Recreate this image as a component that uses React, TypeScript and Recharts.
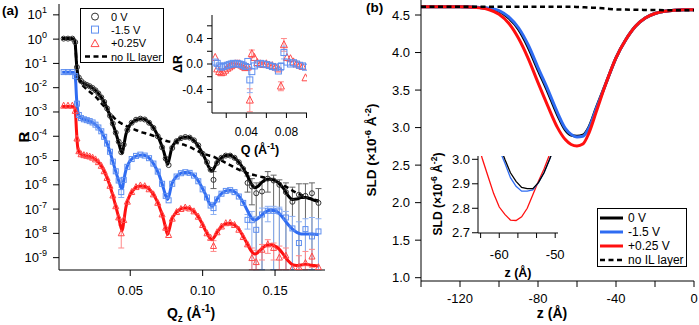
import {
  ComposedChart,
  ErrorBar,
  Line,
  LineChart,
  Scatter,
  XAxis,
  YAxis,
} from "recharts";

const FONT = '"Liberation Sans", Arial, Helvetica, sans-serif';
const BLUE = "#2f6cf2";
const RED = "#ff1010";
const BLACK_MARK = "#333";
const BLUE_MARK = "#5f8ff0";
const RED_MARK = "#ff4848";
const BLACK_ERR = "#666";
const BLUE_ERR = "#8db0f2";
const RED_ERR = "#ff8a8a";

// ---------- (a) reflectivity: fits ----------
const qFit = [
  0.003, 0.006, 0.009, 0.011, 0.0118, 0.0124, 0.0128, 0.0132, 0.0136, 0.014,
  0.015, 0.016, 0.018, 0.02, 0.022, 0.024, 0.026, 0.028, 0.03, 0.032,
  0.034, 0.036, 0.038, 0.04, 0.042, 0.0435, 0.0445, 0.0455, 0.047, 0.049,
  0.052, 0.055, 0.058, 0.061, 0.064, 0.067, 0.07, 0.073, 0.0745, 0.0758,
  0.077, 0.0785, 0.081, 0.084, 0.087, 0.09, 0.093, 0.096, 0.099, 0.102,
  0.1045, 0.1065, 0.108, 0.11, 0.113, 0.116, 0.119, 0.122, 0.125, 0.128,
  0.131, 0.1335, 0.136, 0.138, 0.141, 0.144, 0.147, 0.15, 0.153, 0.156,
  0.159, 0.162, 0.165, 0.168, 0.171, 0.174, 0.177, 0.18,
];

const fit0V = [
  1.05, 1.05, 1.05, 1.0, 0.8, 0.3, 0.12, 0.06, 0.04, 0.03,
  0.022, 0.018, 0.015, 0.013, 0.0113, 0.0096, 0.0078, 0.0058, 0.004, 0.0025,
  0.0014, 7e-4, 3.2e-4, 1.4e-4, 5.5e-5, 2.6e-5, 2.0e-5, 4e-5, 1.2e-4, 2.5e-4,
  4.0e-4, 4.9e-4, 5.2e-4, 4.6e-4, 3.2e-4, 1.8e-4, 7.5e-5, 2.5e-5, 1.2e-5, 7e-6,
  1.2e-5, 3e-5, 5.5e-5, 7.8e-5, 9e-5, 9e-5, 7.5e-5, 4.8e-5, 2.5e-5, 1.1e-5,
  5e-6, 3.6e-6, 5e-6, 8.5e-6, 1.3e-5, 1.6e-5, 1.65e-5, 1.3e-5, 8.5e-6, 4.8e-6,
  2.3e-6, 1.1e-6, 7.5e-7, 8.5e-7, 1.3e-6, 1.65e-6, 1.7e-6, 1.5e-6, 1.1e-6, 7e-7,
  3.6e-7, 2.5e-7, 2.6e-7, 3e-7, 3e-7, 2.7e-7, 2.3e-7, 2.1e-7,
];

const fitNoIL = [
  1.05, 1.05, 1.05, 1.0, 0.8, 0.3, 0.12, 0.06, 0.04, 0.03,
  0.02, 0.015, 0.011, 0.0085, 0.0068, 0.0055, 0.0043, 0.0032, 0.0023, 0.0017,
  0.0012, 8.5e-4, 6.5e-4, 5e-4, 4e-4, 3.5e-4, 3.2e-4, 3e-4, 2.7e-4, 2.4e-4,
  2e-4, 1.7e-4, 1.45e-4, 1.3e-4, 1.15e-4, 1e-4, 8.5e-5, 7e-5, 6.5e-5, 6.2e-5,
  6e-5, 5.8e-5, 5.5e-5, 5e-5, 4.5e-5, 3.8e-5, 3.2e-5, 2.6e-5, 2.1e-5, 1.8e-5,
  1.6e-5, 1.5e-5, 1.4e-5, 1.2e-5, 1e-5, 8e-6, 6.5e-6, 5.2e-6, 4.2e-6, 3.5e-6,
  3e-6, 2.7e-6, 2.5e-6, 2.3e-6, 2.1e-6, 1.9e-6, 1.7e-6, 1.45e-6, 1.2e-6, 9.5e-7,
  7.5e-7, 5.8e-7, 4.6e-7, 3.8e-7, 3.2e-7, 2.8e-7, 2.5e-7, 2.2e-7,
];

const fitMinus15V = [
  0.043, 0.043, 0.043, 0.042, 0.035, 0.015, 0.005, 0.0022, 0.0013, 9e-4,
  6.5e-4, 5.6e-4, 5e-4, 4.6e-4, 4.2e-4, 3.7e-4, 3e-4, 2.3e-4, 1.6e-4, 9.5e-5,
  5e-5, 2.3e-5, 9e-6, 3.5e-6, 1.5e-6, 8e-7, 7e-7, 1.5e-6, 4e-6, 8e-6,
  1.3e-5, 1.6e-5, 1.7e-5, 1.55e-5, 1.1e-5, 6e-6, 2.5e-6, 7e-7, 3.5e-7, 2.5e-7,
  4e-7, 1e-6, 1.9e-6, 2.8e-6, 3.2e-6, 3.2e-6, 2.7e-6, 1.8e-6, 9e-7, 4e-7,
  1.8e-7, 1.3e-7, 1.6e-7, 2.6e-7, 4.3e-7, 5.6e-7, 6e-7, 5.2e-7, 3.5e-7, 1.9e-7,
  8.5e-8, 4.5e-8, 3.5e-8, 4e-8, 5.8e-8, 8e-8, 9e-8, 8.5e-8, 6.5e-8, 4e-8,
  2.3e-8, 1.5e-8, 1.1e-8, 9.5e-9, 9.5e-9, 9.5e-9, 9.2e-9, 9e-9,
];

const fitPlus025V = [
  0.0017, 0.0017, 0.0017, 0.00165, 0.0014, 6e-4, 2e-4, 8e-5, 4e-5, 2.8e-5,
  2e-5, 1.8e-5, 1.65e-5, 1.55e-5, 1.45e-5, 1.3e-5, 1.1e-5, 8.5e-6, 6e-6, 3.6e-6,
  1.9e-6, 9e-7, 3.6e-7, 1.3e-7, 4.5e-8, 1.8e-8, 1.3e-8, 3e-8, 1.2e-7, 3e-7,
  6e-7, 8.5e-7, 9e-7, 8.2e-7, 5.8e-7, 3.2e-7, 1.3e-7, 3.8e-8, 1.6e-8, 9e-9,
  1.5e-8, 3.5e-8, 6.5e-8, 9.5e-8, 1.1e-7, 1.1e-7, 9e-8, 5.8e-8, 3e-8, 1.3e-8,
  7e-9, 5.5e-9, 7e-9, 1.1e-8, 1.9e-8, 2.5e-8, 2.6e-8, 2.2e-8, 1.5e-8, 7.5e-9,
  3.5e-9, 1.9e-9, 1.4e-9, 1.6e-9, 2.4e-9, 3.2e-9, 3.4e-9, 3e-9, 2.2e-9, 1.3e-9,
  7.5e-10, 5.2e-10, 4.8e-10, 5e-10, 5.2e-10, 5e-10, 4.7e-10, 4.5e-10,
];

// ---------- (a) reflectivity: measured points ----------
const qMeas = [
  0.004, 0.007, 0.01, 0.012, 0.0132, 0.0145, 0.016, 0.018, 0.02, 0.022,
  0.024, 0.026, 0.028, 0.03, 0.032, 0.034, 0.036, 0.038, 0.04, 0.042,
  0.0438, 0.0455, 0.048, 0.051, 0.054, 0.057, 0.06, 0.063, 0.066, 0.069,
  0.072, 0.0745, 0.0765, 0.079, 0.082, 0.085, 0.088, 0.091, 0.094, 0.097,
  0.1, 0.103, 0.1055, 0.1075, 0.11, 0.113, 0.116, 0.119, 0.122, 0.125,
  0.128, 0.131, 0.134, 0.137, 0.141, 0.145, 0.149, 0.153, 0.1575, 0.162,
  0.1665, 0.171, 0.1755, 0.18,
];

const meas0V = [
  1.05, 1.05, 1.05, 0.75, 0.07, 0.026, 0.019, 0.015, 0.013, 0.0115,
  0.0097, 0.0078, 0.0058, 0.004, 0.0026, 0.0014, 7e-4, 3.3e-4, 1.4e-4, 6e-5,
  2.2e-5, 4.5e-5, 1.8e-4, 3.6e-4, 4.8e-4, 5.3e-4, 4.9e-4, 3.6e-4, 2.2e-4, 1e-4,
  3.5e-5, 1.2e-5, 6.5e-6, 3.3e-5, 6.3e-5, 8.3e-5, 9.3e-5, 8.8e-5, 6.8e-5, 4.2e-5,
  1.9e-5, 8.5e-6, 4.2e-6, 1.6e-6, 8e-6, 1.3e-5, 1.6e-5, 1.6e-5, 1.3e-5, 8.5e-6,
  4.5e-6, 1.2e-6, 8.5e-7, 4.5e-7, 5.3e-7, 1.8e-6, 1.5e-6, 1e-6, 5e-7, 2e-7,
  3.9e-7, 3.5e-7, 4.5e-7, 1.8e-7,
];

const measMinus15V = [
  0.044, 0.044, 0.044, 0.03, 0.0022, 7.5e-4, 5.6e-4, 5e-4, 4.6e-4, 4.2e-4,
  3.7e-4, 3e-4, 2.3e-4, 1.6e-4, 9.5e-5, 5e-5, 2.3e-5, 9e-6, 3.6e-6, 1.5e-6,
  5e-7, 1.6e-6, 5.5e-6, 1.15e-5, 1.55e-5, 1.75e-5, 1.6e-5, 1.25e-5, 7.5e-6, 3.5e-6,
  1.1e-6, 3.5e-7, 2.3e-7, 1.1e-6, 2.2e-6, 3e-6, 3.3e-6, 3.1e-6, 2.4e-6, 1.4e-6,
  6.5e-7, 3e-7, 1.4e-7, 1.1e-7, 2.5e-7, 4.3e-7, 5.6e-7, 6e-7, 5e-7, 3.3e-7,
  1.8e-7, 3.6e-8, 3.5e-8, 1.4e-8, 6e-8, 8.5e-8, 8.5e-8, 8e-8, 4.5e-8, 1.6e-8,
  4e-9, 1.5e-8, 7.5e-9, 1.2e-8,
];

const measPlus025V = [
  0.0018, 0.0018, 0.0018, 0.0011, 8e-5, 2.4e-5, 1.8e-5, 1.65e-5, 1.55e-5, 1.45e-5,
  1.3e-5, 1.1e-5, 8.5e-6, 6e-6, 3.6e-6, 1.9e-6, 9e-7, 3.6e-7, 1.3e-7, 4.5e-8,
  1e-8, 3.5e-8, 2e-7, 5e-7, 8e-7, 9.3e-7, 8.7e-7, 6.5e-7, 4e-7, 1.8e-7,
  6e-8, 1.7e-8, 8.5e-9, 4e-8, 7.5e-8, 1e-7, 1.15e-7, 1.05e-7, 8e-8, 4.8e-8,
  2.2e-8, 1e-8, 6.5e-9, 3e-9, 1.1e-8, 1.9e-8, 2.6e-8, 2.7e-8, 2.2e-8, 1.4e-8,
  7e-9, 3.5e-9, 9.5e-10, 6.5e-10, 2.1e-9, 3.5e-9, 2.5e-9, 1e-9, 1.2e-9, 3.6e-10,
  4e-10, 6e-10, 1.1e-9, 4e-10,
];

// error bar bounds (lower, upper) at the listed q values; 3.2e-10 = bar runs to the frame bottom
const errQ0V = [0.1075, 0.131, 0.134, 0.137, 0.141, 0.145, 0.149, 0.153, 0.1575, 0.162, 0.1665, 0.171, 0.1755, 0.18];
const errLo0V = [7e-7, 5e-7, 1.5e-7, 3.2e-10, 3.2e-10, 5e-7, 3.2e-10, 3.2e-10, 3.2e-10, 3.2e-10, 3.2e-10, 3.2e-10, 3.2e-10, 3.2e-10];
const errHi0V = [3.5e-6, 2.3e-6, 1.8e-6, 1.2e-6, 1.3e-6, 3.5e-6, 2.5e-6, 1.6e-6, 1.2e-6, 8e-7, 1.1e-6, 1.1e-6, 1.2e-6, 7e-7];

const errQMinus15V = [0.0438, 0.1075, 0.131, 0.134, 0.137, 0.141, 0.145, 0.149, 0.153, 0.1575, 0.162, 0.1665, 0.171, 0.1755, 0.18];
const errLoMinus15V = [3e-7, 6e-8, 1.5e-8, 3.2e-10, 3.2e-10, 3.2e-10, 3e-8, 3.2e-10, 3.2e-10, 3.2e-10, 3.2e-10, 3.2e-10, 3.2e-10, 3.2e-10, 3.2e-10];
const errHiMinus15V = [8e-7, 1.9e-7, 6e-8, 8e-8, 5e-8, 1.1e-7, 1.3e-7, 1.3e-7, 1.2e-7, 8e-8, 5e-8, 3e-8, 4e-8, 4.5e-8, 4e-8];

const errQPlus025V = [0.0438, 0.1075, 0.134, 0.137, 0.141, 0.145, 0.149, 0.153, 0.1575, 0.1665, 0.171, 0.1755];
const errLoPlus025V = [2.5e-9, 1.8e-9, 3.2e-10, 3.2e-10, 8e-10, 1.5e-9, 8e-10, 3.2e-10, 3.2e-10, 3.2e-10, 3.2e-10, 4e-10];
const errHiPlus025V = [2.2e-8, 5e-9, 2.5e-9, 2e-9, 3.5e-9, 5.5e-9, 4e-9, 3e-9, 2.5e-9, 1.2e-9, 1.8e-9, 2.2e-9];

const logTicks = [1e-9, 1e-8, 1e-7, 1e-6, 1e-5, 1e-4, 1e-3, 1e-2, 1e-1, 1, 10];
const qTicks = [0.05, 0.1, 0.15];

// ---------- (a) inset: delta R ----------
const qDiff = [
  0.009, 0.011, 0.013, 0.015, 0.017, 0.019, 0.021, 0.023, 0.025, 0.027,
  0.029, 0.031, 0.033, 0.035, 0.037, 0.039, 0.0415, 0.0435, 0.0455, 0.048,
  0.051, 0.054, 0.057, 0.06, 0.063, 0.066, 0.069, 0.072, 0.0745, 0.0775,
  0.0805, 0.084, 0.087, 0.09, 0.093, 0.096, 0.099,
];
const diffMinus15V = [
  0.03, 0.01, -0.03, -0.05, -0.04, -0.03, -0.02, -0.01, 0.0, 0.01,
  0.0, 0.01, 0.0, -0.01, -0.02, -0.04, 0.04, -0.25, -0.12, -0.03,
  0.0, 0.01, 0.0, -0.01, -0.02, -0.04, -0.05, -0.11, -0.04, 0.18,
  0.03, 0.0, 0.02, 0.0, -0.02, -0.03, -0.05,
];
const diffPlus025V = [
  0.1, -0.08, -0.12, -0.14, -0.13, -0.1, -0.07, -0.05, -0.03, -0.01,
  0.0, 0.0, 0.0, -0.02, -0.04, -0.06, -0.05, -0.57, 0.16, 0.1,
  0.02, 0.0, -0.01, 0.0, -0.02, -0.03, -0.05, -0.08, -0.35, 0.3,
  0.1, 0.08, 0.03, 0.0, -0.02, -0.04, -0.22,
];
const diffErrQMinus15V = [0.0435, 0.0745, 0.0775];
const diffErrMinus15V = [0.2, 0.06, 0.1];
const diffErrQPlus025V = [0.0435, 0.0455, 0.0745, 0.0775];
const diffErrPlus025V = [0.18, 0.06, 0.07, 0.1];
const diffQTicks = [0.02, 0.04, 0.06, 0.08, 0.1];
const diffQLabels = [0.04, 0.08];
const diffTicks = [-0.6, -0.4, -0.2, 0, 0.2, 0.4, 0.6];
const diffLabels = [-0.4, 0, 0.4];

// ---------- (b) SLD profiles ----------
const zProfile = [
  -140, -130, -120, -110, -105, -100, -95, -90, -85, -80, -75, -70, -66, -63,
  -60, -57, -54, -50, -45, -40, -35, -30, -25, -20, -15, -10, -5, 0,
];
const sld0V = [
  4.61, 4.61, 4.61, 4.6, 4.585, 4.55, 4.46, 4.31, 4.07, 3.77, 3.48, 3.17, 2.97, 2.9,
  2.886, 2.9, 3.0, 3.27, 3.6, 3.93, 4.17, 4.35, 4.46, 4.52, 4.55, 4.565, 4.57, 4.57,
];
const sldMinus15V = [
  4.61, 4.61, 4.61, 4.6, 4.59, 4.56, 4.475, 4.33, 4.1, 3.8, 3.51, 3.2, 2.99, 2.91,
  2.875, 2.885, 2.99, 3.26, 3.6, 3.93, 4.17, 4.35, 4.46, 4.52, 4.55, 4.565, 4.57, 4.57,
];
const sldPlus025V = [
  4.61, 4.61, 4.61, 4.595, 4.57, 4.51, 4.39, 4.19, 3.92, 3.6, 3.29, 3.0, 2.84, 2.775,
  2.755, 2.78, 2.92, 3.22, 3.6, 3.93, 4.17, 4.35, 4.46, 4.52, 4.55, 4.565, 4.57, 4.57,
];
const sldNoIL = [
  4.61, 4.61, 4.61, 4.61, 4.61, 4.61, 4.61, 4.61, 4.61, 4.61, 4.61, 4.61, 4.61, 4.61,
  4.608, 4.604, 4.6, 4.595, 4.585, 4.575, 4.572, 4.57, 4.568, 4.566, 4.565, 4.565, 4.565, 4.565,
];
const zTicks = [-140, -120, -100, -80, -60, -40, -20, 0];
const zLabels = [-120, -80, -40, 0];
const sldTicks = [1.0, 1.5, 2.0, 2.5, 3.0, 3.5, 4.0, 4.5];

// ---------- (b) inset: zoom on the minimum ----------
const zInset = [-64, -63, -62, -61, -60, -59, -58, -57, -56, -55, -54, -53, -52, -51, -50];
const inset0V = [3.32, 3.24, 3.17, 3.11, 3.06, 3.0, 2.945, 2.91, 2.885, 2.88, 2.88, 2.905, 2.945, 3.0, 3.06];
const insetMinus15V = [3.3, 3.22, 3.15, 3.09, 3.04, 2.985, 2.925, 2.89, 2.87, 2.87, 2.875, 2.905, 2.945, 3.0, 3.06];
const insetPlus025V = [3.08, 3.0, 2.93, 2.86, 2.805, 2.775, 2.752, 2.75, 2.765, 2.8, 2.855, 2.91, 2.96, 3.02, 3.1];
const zInsetTicks = [-63.333, -60, -56.667, -53.333, -50];
const zInsetLabels = [-60, -50];
const sldInsetTicks = [2.7, 2.8, 2.9, 3.0];

// ---------- table builders ----------
const pairs = (xs: number[], ys: number[], xk: string, yk: string) =>
  xs.map((x, i) => ({ [xk]: x, [yk]: ys[i] }));

const measured = (r: number[], eq: number[], lo: number[], hi: number[]) =>
  qMeas.map((q, i) => {
    const k = eq.indexOf(q);
    return { q, r: r[i], err: k < 0 ? null : [r[i] - lo[k], hi[k] - r[i]] };
  });

const diffs = (d: number[], eq: number[], e: number[]) =>
  qDiff.map((q, i) => {
    const k = eq.indexOf(q);
    return { q, d: d[i], err: k < 0 ? null : e[k] };
  });

const fitBlack = pairs(qFit, fit0V, "q", "r");
const fitBlue = pairs(qFit, fitMinus15V, "q", "r");
const fitRed = pairs(qFit, fitPlus025V, "q", "r");
const fitDash = pairs(qFit, fitNoIL, "q", "r");
const dataBlack = measured(meas0V, errQ0V, errLo0V, errHi0V);
const dataBlue = measured(measMinus15V, errQMinus15V, errLoMinus15V, errHiMinus15V);
const dataRed = measured(measPlus025V, errQPlus025V, errLoPlus025V, errHiPlus025V);
const diffBlue = diffs(diffMinus15V, diffErrQMinus15V, diffErrMinus15V);
const diffRed = diffs(diffPlus025V, diffErrQPlus025V, diffErrPlus025V);

// ---------- marker shapes ----------
const circle = (size: number, color: string) => (p: any) =>
  <circle cx={p.cx} cy={p.cy} r={size / 2} fill="none" stroke={color} strokeWidth={1} />;
const square = (size: number, color: string) => (p: any) =>
  <rect x={p.cx - size / 2} y={p.cy - size / 2} width={size} height={size} fill="none" stroke={color} strokeWidth={1} />;
const triangle = (size: number, color: string) => (p: any) =>
  <path
    d={`M${p.cx},${p.cy - size * 0.6}L${p.cx - size / 2},${p.cy + size * 0.4}L${p.cx + size / 2},${p.cy + size * 0.4}Z`}
    fill="none"
    stroke={color}
    strokeWidth={1}
  />;

function LogTick(props: any) {
  const { x, y, payload } = props;
  const exponent = Math.round(Math.log10(payload.value));
  return (
    <text x={x} y={y} dy={4.5} textAnchor="end" fontFamily={FONT} fontSize={13} fill="#000">
      10<tspan dy={-6} fontSize={9}>{exponent}</tspan>
    </text>
  );
}

const tickStyle = (size: number) => ({ fontSize: size, fontFamily: FONT, fill: "#000" });
const onlyLabels = (labels: number[], digits: number) => (v: number) =>
  labels.some((l) => Math.abs(l - v) < 1e-9) ? v.toFixed(digits) : "";

function ReflectivityPanel() {
  return (
    <ComposedChart width={330} height={325} margin={{ top: 4, right: 5, bottom: 0, left: 0 }}>
      <XAxis
        dataKey="q"
        type="number"
        domain={[0.0008, 0.1845]}
        ticks={qTicks}
        tickFormatter={(v: number) => v.toFixed(2)}
        allowDataOverflow
        height={55}
        tickSize={6}
        tickMargin={10}
        tick={tickStyle(13)}
        stroke="#000"
      />
      <YAxis
        type="number"
        scale="log"
        domain={[3.1e-10, 28]}
        ticks={logTicks}
        allowDataOverflow
        width={59}
        tickSize={6}
        tickMargin={6}
        tick={<LogTick />}
        stroke="#000"
      />
      <XAxis xAxisId="top" orientation="top" type="number" domain={[0, 1]} height={0} tick={false} tickLine={false} stroke="#000" />
      <YAxis yAxisId="right" orientation="right" type="number" domain={[0, 1]} width={0} tick={false} tickLine={false} stroke="#000" />

      <Scatter data={dataBlack} dataKey="r" shape={circle(5, BLACK_MARK)} isAnimationActive={false}>
        <ErrorBar dataKey="err" direction="y" width={3} stroke={BLACK_ERR} strokeWidth={1} />
      </Scatter>
      <Scatter data={dataBlue} dataKey="r" shape={square(5, BLUE_MARK)} isAnimationActive={false}>
        <ErrorBar dataKey="err" direction="y" width={3} stroke={BLUE_ERR} strokeWidth={1} />
      </Scatter>
      <Scatter data={dataRed} dataKey="r" shape={triangle(6, RED_MARK)} isAnimationActive={false}>
        <ErrorBar dataKey="err" direction="y" width={3} stroke={RED_ERR} strokeWidth={1} />
      </Scatter>

      <Line data={fitBlack} dataKey="r" type="monotone" stroke="#000" strokeWidth={3} dot={false} isAnimationActive={false} />
      <Line data={fitDash} dataKey="r" type="monotone" stroke="#000" strokeWidth={2.5} strokeDasharray="5 3.5" dot={false} isAnimationActive={false} />
      <Line data={fitBlue} dataKey="r" type="monotone" stroke={BLUE} strokeWidth={3} dot={false} isAnimationActive={false} />
      <Line data={fitRed} dataKey="r" type="monotone" stroke={RED} strokeWidth={3} dot={false} isAnimationActive={false} />
    </ComposedChart>
  );
}

function DiffInset() {
  return (
    <ComposedChart width={150} height={160} margin={{ top: 10, right: 8, bottom: 0, left: 0 }}>
      <XAxis
        dataKey="q"
        type="number"
        domain={[0.0058, 0.1005]}
        ticks={diffQTicks}
        tickFormatter={onlyLabels(diffQLabels, 2)}
        allowDataOverflow
        height={52}
        tickSize={5}
        tickMargin={9}
        tick={tickStyle(12)}
        stroke="#000"
      />
      <YAxis
        type="number"
        domain={[-0.77, 0.77]}
        ticks={diffTicks}
        tickFormatter={onlyLabels(diffLabels, 1)}
        allowDataOverflow
        width={47}
        tickSize={5}
        tickMargin={4}
        tick={tickStyle(12)}
        stroke="#000"
      />
      <XAxis xAxisId="top" orientation="top" type="number" domain={[0, 1]} height={0} tick={false} tickLine={false} stroke="#000" />
      <YAxis yAxisId="right" orientation="right" type="number" domain={[0, 1]} width={0} tick={false} tickLine={false} stroke="#000" />
      <Scatter data={diffRed} dataKey="d" shape={triangle(7, RED_MARK)} isAnimationActive={false}>
        <ErrorBar dataKey="err" direction="y" width={3} stroke={RED_ERR} strokeWidth={1} />
      </Scatter>
      <Scatter data={diffBlue} dataKey="d" shape={square(6, BLUE_MARK)} isAnimationActive={false}>
        <ErrorBar dataKey="err" direction="y" width={3} stroke={BLUE_ERR} strokeWidth={1} />
      </Scatter>
    </ComposedChart>
  );
}

function ProfilePanel() {
  return (
    <LineChart width={349} height={325} margin={{ top: 0, right: 5, bottom: 0, left: 0 }}>
      <XAxis
        dataKey="z"
        type="number"
        domain={[-140, 0]}
        ticks={zTicks}
        tickFormatter={onlyLabels(zLabels, 0)}
        allowDataOverflow
        height={44}
        tickSize={6}
        tickMargin={7}
        tick={tickStyle(13)}
        stroke="#000"
      />
      <YAxis
        type="number"
        domain={[0.956, 4.7]}
        ticks={sldTicks}
        tickFormatter={(v: number) => v.toFixed(1)}
        allowDataOverflow
        width={71}
        tickSize={6}
        tickMargin={5}
        tick={tickStyle(13)}
        stroke="#000"
      />
      <Line data={pairs(zProfile, sld0V, "z", "s")} dataKey="s" type="monotone" stroke="#000" strokeWidth={3} dot={false} isAnimationActive={false} />
      <Line data={pairs(zProfile, sldMinus15V, "z", "s")} dataKey="s" type="monotone" stroke={BLUE} strokeWidth={3} dot={false} isAnimationActive={false} />
      <Line data={pairs(zProfile, sldPlus025V, "z", "s")} dataKey="s" type="monotone" stroke={RED} strokeWidth={3} dot={false} isAnimationActive={false} />
      <Line data={pairs(zProfile, sldNoIL, "z", "s")} dataKey="s" type="monotone" stroke="#000" strokeWidth={2.5} strokeDasharray="5 3.5" dot={false} isAnimationActive={false} />
    </LineChart>
  );
}

function ProfileInset() {
  return (
    <LineChart width={135} height={140} margin={{ top: 11, right: 7, bottom: 0, left: 0 }}>
      <XAxis
        dataKey="z"
        type="number"
        domain={[-63.8, -49.5]}
        ticks={zInsetTicks}
        tickFormatter={onlyLabels(zInsetLabels, 0)}
        allowDataOverflow
        height={52}
        tickSize={5}
        tickMargin={12}
        tick={tickStyle(13)}
        stroke="#000"
      />
      <YAxis
        type="number"
        domain={[2.699, 3.0135]}
        ticks={sldInsetTicks}
        tickFormatter={(v: number) => v.toFixed(1)}
        allowDataOverflow
        width={48}
        tickSize={6}
        tickMargin={2}
        tick={tickStyle(13)}
        stroke="#000"
      />
      <XAxis xAxisId="top" orientation="top" type="number" domain={[0, 1]} height={0} tick={false} tickLine={false} stroke="#000" />
      <YAxis yAxisId="right" orientation="right" type="number" domain={[0, 1]} width={0} tick={false} tickLine={false} stroke="#000" />
      <Line data={pairs(zInset, insetPlus025V, "z", "s")} dataKey="s" type="linear" stroke={RED} strokeWidth={1.3} dot={false} isAnimationActive={false} />
      <Line data={pairs(zInset, insetMinus15V, "z", "s")} dataKey="s" type="linear" stroke={BLUE} strokeWidth={1.3} dot={false} isAnimationActive={false} />
      <Line data={pairs(zInset, inset0V, "z", "s")} dataKey="s" type="linear" stroke="#000" strokeWidth={1.3} dot={false} isAnimationActive={false} />
    </LineChart>
  );
}

type LegendRow = { label: string; icon: JSX.Element };

function LegendBox(props: {
  left: number; top: number; width: number; height: number;
  rowHeight: number; padTop: number; fontSize: number; rows: LegendRow[];
}) {
  const { left, top, width, height, rowHeight, padTop, fontSize, rows } = props;
  return (
    <div
      style={{
        position: "absolute", left, top, width, height, boxSizing: "border-box",
        border: "1px solid #000", background: "#fff", fontFamily: FONT, fontSize,
        paddingTop: padTop, color: "#000",
      }}
    >
      {rows.map((row) => (
        <div key={row.label} style={{ height: rowHeight, display: "flex", alignItems: "center", whiteSpace: "nowrap" }}>
          <svg width={30} height={rowHeight} style={{ flex: "none" }}>{row.icon}</svg>
          <span>{row.label}</span>
        </div>
      ))}
    </div>
  );
}

const cy = 6.6;
const legendA: LegendRow[] = [
  { label: "0 V", icon: <circle cx={14} cy={cy} r={3.5} fill="none" stroke={BLACK_MARK} strokeWidth={1} /> },
  { label: "-1.5 V", icon: <rect x={10.5} y={cy - 3.5} width={7} height={7} fill="none" stroke={BLUE_MARK} strokeWidth={1} /> },
  { label: "+0.25V", icon: <path d={`M14,${cy - 4.2}L10,${cy + 3}L18,${cy + 3}Z`} fill="none" stroke={RED_MARK} strokeWidth={1} /> },
  { label: "no IL layer", icon: <line x1={4} x2={26} y1={cy} y2={cy} stroke="#000" strokeWidth={2.5} strokeDasharray="5 3.5" /> },
];
const legendB: LegendRow[] = [
  { label: "0 V", icon: <line x1={2} x2={25} y1={7} y2={7} stroke="#000" strokeWidth={3} /> },
  { label: "-1.5 V", icon: <line x1={2} x2={25} y1={7} y2={7} stroke={BLUE} strokeWidth={3} /> },
  { label: "+0.25 V", icon: <line x1={2} x2={25} y1={7} y2={7} stroke={RED} strokeWidth={3} /> },
  { label: "no IL layer", icon: <line x1={2} x2={25} y1={7} y2={7} stroke="#000" strokeWidth={2.5} strokeDasharray="5 3.5" /> },
];

function Titles() {
  const bold = { fontFamily: FONT, fontWeight: 700, fill: "#000" } as const;
  return (
    <svg width={699} height={325} style={{ position: "absolute", left: 0, top: 0, pointerEvents: "none" }}>
      <text x={2} y={15} fontSize={13.5} {...bold}>(a)</text>
      <text x={366} y={12} fontSize={13.5} {...bold}>(b)</text>
      <text transform="translate(28.5,137) rotate(-90)" textAnchor="middle" fontSize={15} {...bold}>R</text>
      <text x={191} y={318} textAnchor="middle" fontSize={14} {...bold}>
        Q<tspan dy={4} fontSize={10}>z</tspan>
        <tspan dy={-4}> (Å</tspan>
        <tspan dy={-6} fontSize={10}>-1</tspan>
        <tspan dy={6}>)</tspan>
      </text>
      <text transform="translate(181.5,64) rotate(-90)" textAnchor="middle" fontSize={12.5} {...bold}>ΔR</text>
      <text x={260} y={154} textAnchor="middle" fontSize={12.5} {...bold}>
        Q (Å<tspan dy={-5} fontSize={9}>-1</tspan>
        <tspan dy={5}>)</tspan>
      </text>
      <text transform="translate(376,150) rotate(-90)" textAnchor="middle" fontSize={13.5} {...bold}>
        SLD (×10<tspan dy={-5} fontSize={9.5}>-6</tspan>
        <tspan dy={5}> Å</tspan>
        <tspan dy={-5} fontSize={9.5}>-2</tspan>
        <tspan dy={5}>)</tspan>
      </text>
      <text x={552} y={318} textAnchor="middle" fontSize={14} {...bold}>z (Å)</text>
      <text transform="translate(441.5,194) rotate(-90)" textAnchor="middle" fontSize={12} {...bold}>
        SLD (×10<tspan dy={-5} fontSize={8.5}>-6</tspan>
        <tspan dy={5}> Å</tspan>
        <tspan dy={-5} fontSize={8.5}>-2</tspan>
        <tspan dy={5}>)</tspan>
      </text>
      <text x={518} y={277} textAnchor="middle" fontSize={12.5} {...bold}>z (Å)</text>
    </svg>
  );
}

export default function App() {
  return (
    <div style={{ position: "absolute", left: 0, top: 0, width: 699, height: 325, background: "#fff", overflow: "hidden" }}>
      <div style={{ position: "absolute", left: 0, top: 0 }}>
        <ReflectivityPanel />
      </div>
      <div style={{ position: "absolute", left: 165, top: 5 }}>
        <DiffInset />
      </div>
      <div style={{ position: "absolute", left: 350, top: 0 }}>
        <ProfilePanel />
      </div>
      <div style={{ position: "absolute", left: 430, top: 145 }}>
        <ProfileInset />
      </div>
      <LegendBox left={80} top={8} width={84} height={55} rowHeight={13.3} padTop={1} fontSize={11} rows={legendA} />
      <LegendBox left={597} top={208} width={90} height={59} rowHeight={14} padTop={1.5} fontSize={12} rows={legendB} />
      <Titles />
    </div>
  );
}
